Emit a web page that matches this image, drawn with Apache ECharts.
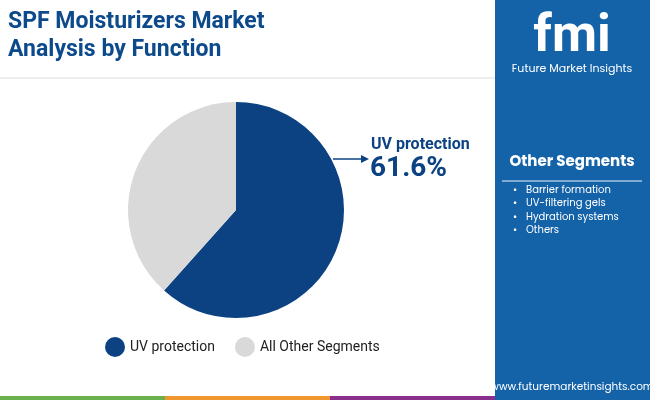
<!DOCTYPE html><html><head><meta charset="utf-8"><script src="https://cdn.jsdelivr.net/npm/echarts@6/dist/echarts.min.js"></script>
<style>body{margin:0}#c{width:650px;height:400px}</style></head><body><div id="c"></div><script>
const categories=['UV protection','All Other Segments'];
const values=[61.6,38.4];
const otherSegments=['Barrier formation','UV-filtering gels','Hydration systems','Others'];
const colors=['#0c4282','#d9d9d9'];
const F='Roboto, "Noto Sans", sans-serif';
const P='Poppins, "Open Sans", sans-serif';
const c=echarts.init(document.getElementById('c'));
const g=[
 {type:'rect',shape:{x:495,y:0,width:155,height:400},style:{fill:'#1463a8'}},
 {type:'rect',shape:{x:0,y:396,width:165,height:4},style:{fill:'#6ab04c'}},
 {type:'rect',shape:{x:165,y:396,width:165,height:4},style:{fill:'#f0962e'}},
 {type:'rect',shape:{x:330,y:396,width:165,height:4},style:{fill:'#8b2f8c'}},
 {type:'line',shape:{x1:0,y1:78,x2:495,y2:78},style:{stroke:'#dddddd',lineWidth:1}},
 {type:'text',left:8,top:8,style:{text:'SPF Moisturizers Market\nAnalysis by Function',font:'bold 23px '+F,fill:'#0c4a8c',lineHeight:28}},
 {type:'text',x:572,y:38,style:{text:'fmi',font:'bold 52px '+F,fill:'#ffffff',align:'center',verticalAlign:'middle'}},
 {type:'text',x:572,y:64,style:{text:'Future Market Insights',font:'11px '+P,fill:'#ffffff',align:'center'}},
 {type:'text',x:572,y:155,style:{text:'Other Segments',font:'bold 15px '+P,fill:'#ffffff',align:'center'}},
 {type:'line',shape:{x1:502,y1:181,x2:642,y2:181},style:{stroke:'#a8c4e0',lineWidth:1.5}},
 {type:'text',x:572,y:382,style:{text:'www.futuremarketinsights.com',font:'10.5px '+P,fill:'#ffffff',align:'center'}},
 {type:'text',x:371,y:137,style:{text:'UV protection',font:'bold 16px '+F,fill:'#0c4282'}},
 {type:'text',x:370,y:155,style:{text:'61.6%',font:'bold 28px '+F,fill:'#0c4282'}},
 {type:'line',shape:{x1:333,y1:159,x2:364,y2:159},style:{stroke:'#0c4282',lineWidth:1.5}},
 {type:'polygon',shape:{points:[[369,159],[361,155],[361,163]]},style:{fill:'#0c4282'}}
];
otherSegments.forEach((s,i)=>{g.push({type:'text',x:513,y:185+i*13.5,style:{text:'•',font:'10px '+P,fill:'#fff'}});g.push({type:'text',x:526,y:185+i*13.5,style:{text:s,font:'10px '+P,fill:'#ffffff'}});});
c.setOption({animation:false,graphic:g,
legend:{bottom:38,left:100,itemWidth:20,itemHeight:20,icon:'circle',itemGap:20,textStyle:{fontSize:14,fontFamily:F,color:'#222'},data:categories},
series:[{type:'pie',center:[236,210],radius:[0,108],startAngle:90,clockwise:true,label:{show:false},labelLine:{show:false},
data:categories.map((n,i)=>({name:n,value:values[i],itemStyle:{color:colors[i]}}))}]});
</script></body></html>
